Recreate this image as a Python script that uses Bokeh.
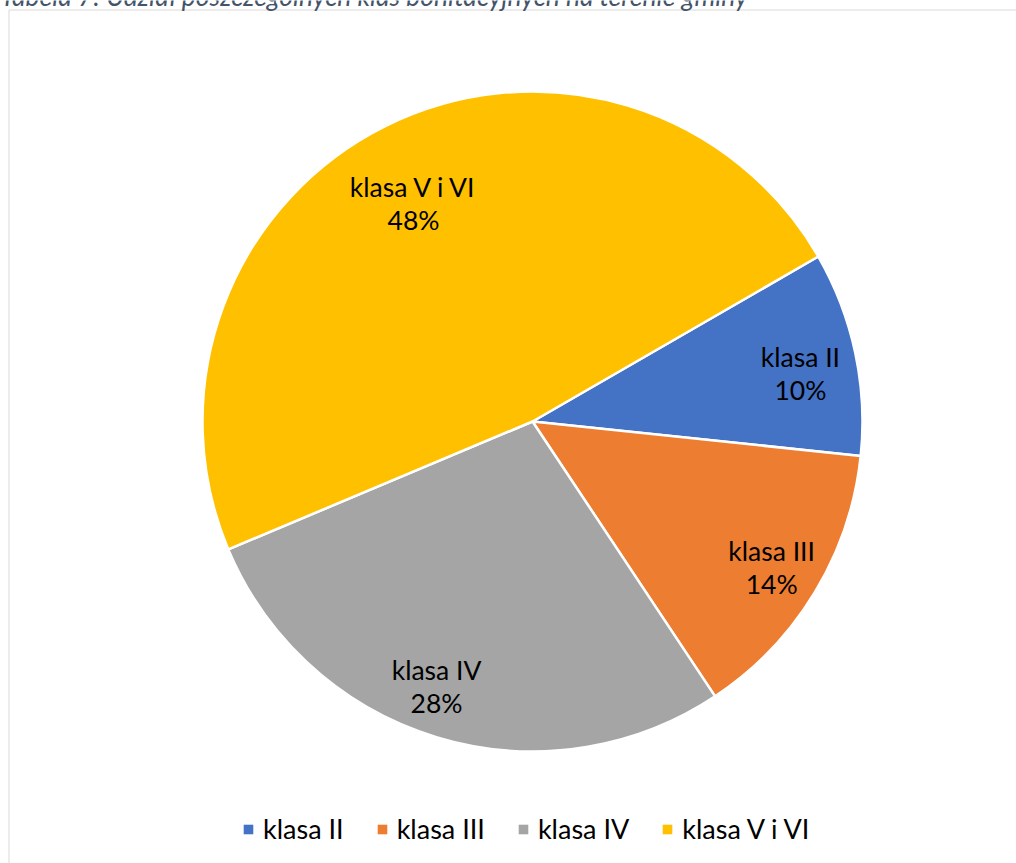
import math
from bokeh.plotting import figure
from bokeh.models import Range1d, Legend, LegendItem, ColumnDataSource
from bokeh.core.properties import value
from bokeh.embed import file_html
from bokeh.resources import INLINE

# ---- data ----
categories = ["klasa II", "klasa III", "klasa IV", "klasa V i VI"]
shares = [10, 14, 28, 48]
colors = ["#4472C4", "#ED7D31", "#A5A5A5", "#FFC000"]
caption = "Tabela 7: Udział poszczególnych klas bonitacyjnych na terenie gminy"

W, H = 1016, 863
FONT = "Lato"

p = figure(width=W, height=H, output_backend="svg", toolbar_location=None,
           x_range=Range1d(0, W), y_range=Range1d(0, H),
           x_axis_type=None, y_axis_type=None, min_border=0,
           outline_line_color=None, background_fill_color="white",
           border_fill_color="white", margin=0)
p.grid.visible = False

# frame border (left and top only visible in the reference)
p.line(x=[8.5, 8.5], y=[H - 9.5, -10], line_color="#D9D9D9", line_width=1)
p.line(x=[8.5, W + 10], y=[H - 9.5, H - 9.5], line_color="#D9D9D9", line_width=1)

# pie geometry
cx, cy, R = 532, H - 421, 330
first_angle = 60.0  # degrees clockwise from 12 o'clock
total = float(sum(shares))
starts, ends, mids = [], [], []
acc = first_angle
for s in shares:
    a0 = acc
    a1 = acc + 360.0 * s / total
    starts.append(math.radians(90 - a0))
    ends.append(math.radians(90 - a1))
    mids.append((a0 + a1) / 2)
    acc = a1

src = ColumnDataSource(dict(start=starts, end=ends, color=colors))
p.wedge(x=cx, y=cy, radius=R, start_angle="start", end_angle="end",
        direction="clock", fill_color="color", line_color="white",
        line_width=2.5, source=src)

# data labels (placed along each slice's middle angle)
label_frac = [0.825, 0.849, 0.854, 0.753]
label_dang = [1.8, 0.2, 3.1, -2.2]
lx, ly, lt = [], [], []
for c, s, m, f, d in zip(categories, shares, mids, label_frac, label_dang):
    t = math.radians(m + d)
    lx.append(cx + f * R * math.sin(t))
    ly.append(cy + f * R * math.cos(t))
    lt.append(f"{c}\n{round(100 * s / total)}%")
p.text(x=lx, y=ly, text=lt, text_align="center", text_baseline="middle",
       text_font=value(FONT), text_font_size="26.5px", text_color="black",
       text_line_height=1.03)

# caption (clipped at top as in the reference)
p.text(x=[0], y=[H - 5], text=[caption], text_align="left",
       text_baseline="alphabetic", y_offset=-10, text_font=value(FONT),
       text_font_style="italic", text_font_size="26.5px", text_color="#44546A")

# legend with dummy square renderers
nan = float("nan")
items = []
for c, col in zip(categories, colors):
    r = p.block(x=[nan], y=[nan], width=[1], height=[1], fill_color=col,
                line_color=None)
    items.append(LegendItem(label=c, renderers=[r]))
legend = Legend(items=items, orientation="horizontal", location=(242, 18),
                glyph_width=12, glyph_height=12, label_standoff=9, spacing=32,
                padding=0, margin=0, border_line_color=None,
                background_fill_alpha=0, label_text_font=FONT,
                label_text_font_size="27px", label_text_color="black")
p.add_layout(legend, "center")

open("out.html", "w").write(file_html(p, INLINE))
